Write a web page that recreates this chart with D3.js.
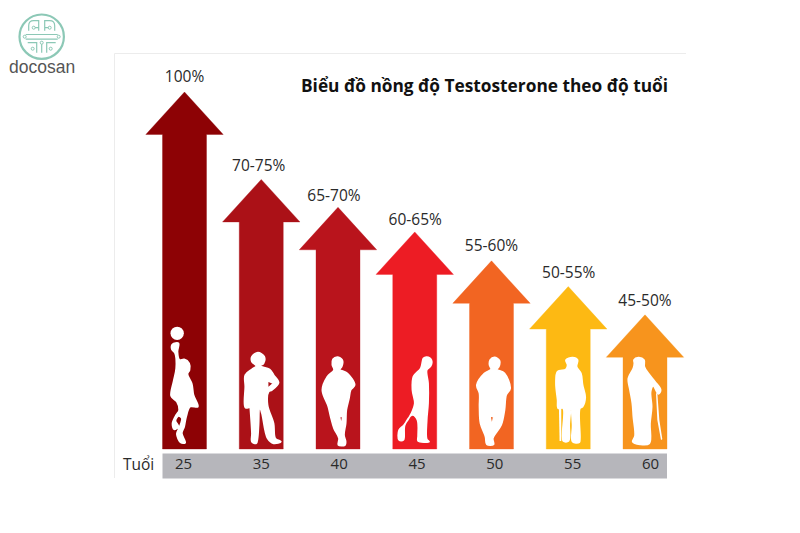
<!DOCTYPE html>
<html><head><meta charset="utf-8">
<script src="https://cdn.jsdelivr.net/npm/d3@7/dist/d3.min.js"></script>
<style>html,body{margin:0;background:#fff}svg{display:block}</style></head>
<body><svg id="c" width="800" height="533"></svg>
<script>
const titleText = "Biểu đồ nồng độ Testosterone theo độ tuổi";
const axisLabel = "Tuổi";
const brandName = "docosan";
const ages = ["25","35","40","45","50","55","60"];
const arrowLevels = [100,75.5,67.7,60.8,52.7,45.5,37.6];
const levelLabels = ["100%","70-75%","65-70%","60-65%","55-60%","50-55%","45-50%"];
const arrowColors = ["#8d0205","#ab1117","#b9141c","#ed1c24","#f26522","#fdb913","#f7941d"];

// silhouettes: outline points in a 3x local sketch space; cx = x of the shaft centre in that space
const figures = [
 {cx:223,ball:[201,70,20],holes:[],parts:[],pts:[[187,103],[205,100],[202,125],[208,150],[222,148],[237,160],[238,180],[232,192],[245,222],[250,255],[263,290],[240,290],[228,320],[222,350],[215,370],[225,398],[212,398],[200,372],[208,352],[215,325],[205,318],[196,332],[205,350],[192,358],[187,340],[198,315],[207,300],[200,275],[183,258],[190,215],[198,175],[195,130],[185,118]]},
 {cx:453,parts:[],holes:[[[472,212],[490,220],[472,236]]],pts:[[443,128],[462,140],[460,160],[450,168],[478,178],[490,195],[505,218],[485,240],[475,245],[472,285],[490,340],[495,385],[512,395],[490,400],[472,385],[455,310],[448,290],[445,345],[442,385],[438,400],[425,395],[425,370],[420,292],[418,268],[416,292],[405,292],[405,230],[405,195],[425,178],[438,168],[425,155],[425,140]]},
 {cx:687,parts:[],holes:[[[691,318],[701,320],[697,348]]],pts:[[685,141],[700,150],[698,170],[692,178],[715,190],[737,225],[725,240],[720,265],[712,300],[710,340],[705,375],[710,395],[708,405],[688,405],[690,385],[675,355],[665,320],[658,290],[640,240],[655,200],[675,180],[670,165],[672,148]]},
 {cx:42,parts:[],holes:[],pts:[[78,141],[92,150],[90,168],[78,180],[82,220],[82,280],[78,330],[78,388],[85,395],[52,393],[52,378],[50,330],[35,315],[12,345],[8,390],[-5,390],[-5,360],[10,345],[32,310],[42,280],[35,240],[38,200],[60,175],[65,155],[68,145]]},
 {cx:276,parts:[],holes:[[[271,318],[283,320],[277,348]]],pts:[[285,142],[300,152],[298,170],[292,178],[315,190],[332,235],[320,255],[315,300],[305,345],[280,385],[282,403],[262,403],[258,380],[243,340],[240,290],[240,250],[232,225],[255,190],[275,178],[270,165],[272,150]]},
 {cx:502,holes:[],parts:[[[474,295],[481,295],[481,393],[476,393]]],pts:[[515,143],[530,150],[527,170],[540,190],[545,225],[553,262],[545,290],[537,295],[537,385],[535,397],[515,395],[515,345],[510,300],[505,340],[503,393],[487,393],[487,295],[472,295],[470,270],[465,220],[470,185],[495,178],[500,165],[495,150]]},
 {cx:735,holes:[],parts:[[[768,250],[772,250],[778,330],[787,388],[783,390],[772,330]]],pts:[[715,143],[732,150],[733,170],[745,190],[765,215],[782,240],[775,252],[760,228],[752,245],[755,290],[750,340],[748,400],[720,403],[698,395],[705,378],[700,320],[697,280],[690,240],[685,205],[700,175],[703,160],[702,150]]}
];

// layout
const baseY = 449, topY = 92, headHalf = 38.7, shaftHalf = 22, headH = 42.5;
const labelNudgeX = [0,-2.5,-4,0.5,0,0.5,0];
const labelNudgeY = [-10,-8.5,-6.5,-6.5,-9.5,-8.5,-8.5];
const svg = d3.select("#c");
const FONT = "'Open Sans',sans-serif";

const x = d3.scalePoint().domain(ages).range([184.5,645]);
const y = d3.scaleLinear().domain([0,100]).range([baseY,topY]);
const axisX = d3.scalePoint().domain(ages).range([183,650]);

// frame
svg.append("path").attr("d","M114.5,478V53.5H686").attr("fill","none").attr("stroke","#ececec").attr("stroke-width",1);

// grey band + axis
svg.append("rect").attr("x",162.5).attr("y",453.5).attr("width",504.5).attr("height",25).attr("fill","#b6b6bb");
const ax = svg.append("g").attr("transform","translate(0,469)")
  .call(d3.axisBottom(axisX).tickSize(0).tickPadding(0));
ax.select(".domain").remove();
ax.selectAll("text").attr("dy",0).attr("y",0).attr("font-family",FONT).attr("font-size",15).attr("fill","#2a2a2a");
svg.append("text").attr("x",123).attr("y",470).attr("font-family",FONT).attr("font-size",15.5).attr("fill","#2a2a2a").text(axisLabel);

// arrows
const outline = d3.line();
svg.append("g").selectAll("path").data(ages).join("path")
  .attr("d",(a,i)=>{
    const c=x(a), t=y(arrowLevels[i]), b=t+headH;
    return outline([[c-shaftHalf,baseY],[c-shaftHalf,b],[c-headHalf,b],[c,t],[c+headHalf,b],[c+shaftHalf,b],[c+shaftHalf,baseY]])+"Z";
  })
  .attr("fill",(a,i)=>arrowColors[i])
  .attr("stroke",(a,i)=>arrowColors[i]).attr("stroke-opacity",.35).attr("stroke-width",1);

// value labels
svg.append("g").selectAll("text").data(ages).join("text")
  .attr("x",(a,i)=>x(a)+labelNudgeX[i])
  .attr("y",(a,i)=>y(arrowLevels[i])+labelNudgeY[i])
  .attr("text-anchor","middle").attr("font-family",FONT).attr("font-size",15.5).attr("fill","#2a2a2a")
  .text((a,i)=>levelLabels[i]);

// silhouettes
const blob = d3.line().curve(d3.curveCatmullRomClosed.alpha(0.5));
const figs = svg.append("g").selectAll("g").data(ages).join("g")
  .attr("transform",(a,i)=>`translate(${x(a)-figures[i].cx/3},${baseY-139}) scale(${1/3})`);
figs.append("path").attr("fill","#fff").attr("stroke","#fff").attr("stroke-width",5).attr("fill-rule","evenodd")
  .attr("d",(a,i)=>blob(figures[i].pts)+figures[i].holes.map(h=>d3.line()(h)+"Z").join(""));
figs.append("path").attr("fill","#fff")
  .attr("d",(a,i)=>figures[i].parts.map(p=>d3.line()(p)+"Z").join(""));
figs.filter((a,i)=>figures[i].ball).append("circle").attr("fill","#fff")
  .attr("cx",(a)=>figures[ages.indexOf(a)].ball[0]).attr("cy",(a)=>figures[ages.indexOf(a)].ball[1]).attr("r",(a)=>figures[ages.indexOf(a)].ball[2]);

// title
svg.append("text").attr("x",301).attr("y",92).attr("font-family",FONT).attr("font-weight",700)
  .attr("font-size",18).attr("fill","#111").attr("textLength",367).attr("lengthAdjust","spacingAndGlyphs").text(titleText);

// logo
const logo = svg.append("g").attr("transform","translate(41.7,36.7)").attr("fill","none").attr("stroke","#8cc8b6").attr("stroke-width",1.2);
logo.append("circle").attr("r",22.2).attr("stroke-width",2.2);
logo.append("path").attr("d",
 "M-16,-2.2H16M-16,2.4H16"+
 "M-3,-6V-16H-8Q-13,-16 -13,-11V-6M3,-6V-16H8Q13,-16 13,-11V-6"+
 "M-8,-9H-3M8,-9H3"+
 "M-14,6H-5V16M14,6H5V16M0,6V16");
logo.selectAll("circle.n").data([[-17,0],[17,0],[-8,-9],[8,-9],[0,6],[-9,12],[9,12]]).join("circle").attr("class","n")
  .attr("cx",d=>d[0]).attr("cy",d=>d[1]).attr("r",1.5).attr("stroke-width",1).attr("fill","#fff");
svg.append("text").attr("x",9).attr("y",73).attr("font-family","'Liberation Sans',sans-serif").attr("font-size",17.5).attr("fill","#555").text(brandName);
</script></body></html>
